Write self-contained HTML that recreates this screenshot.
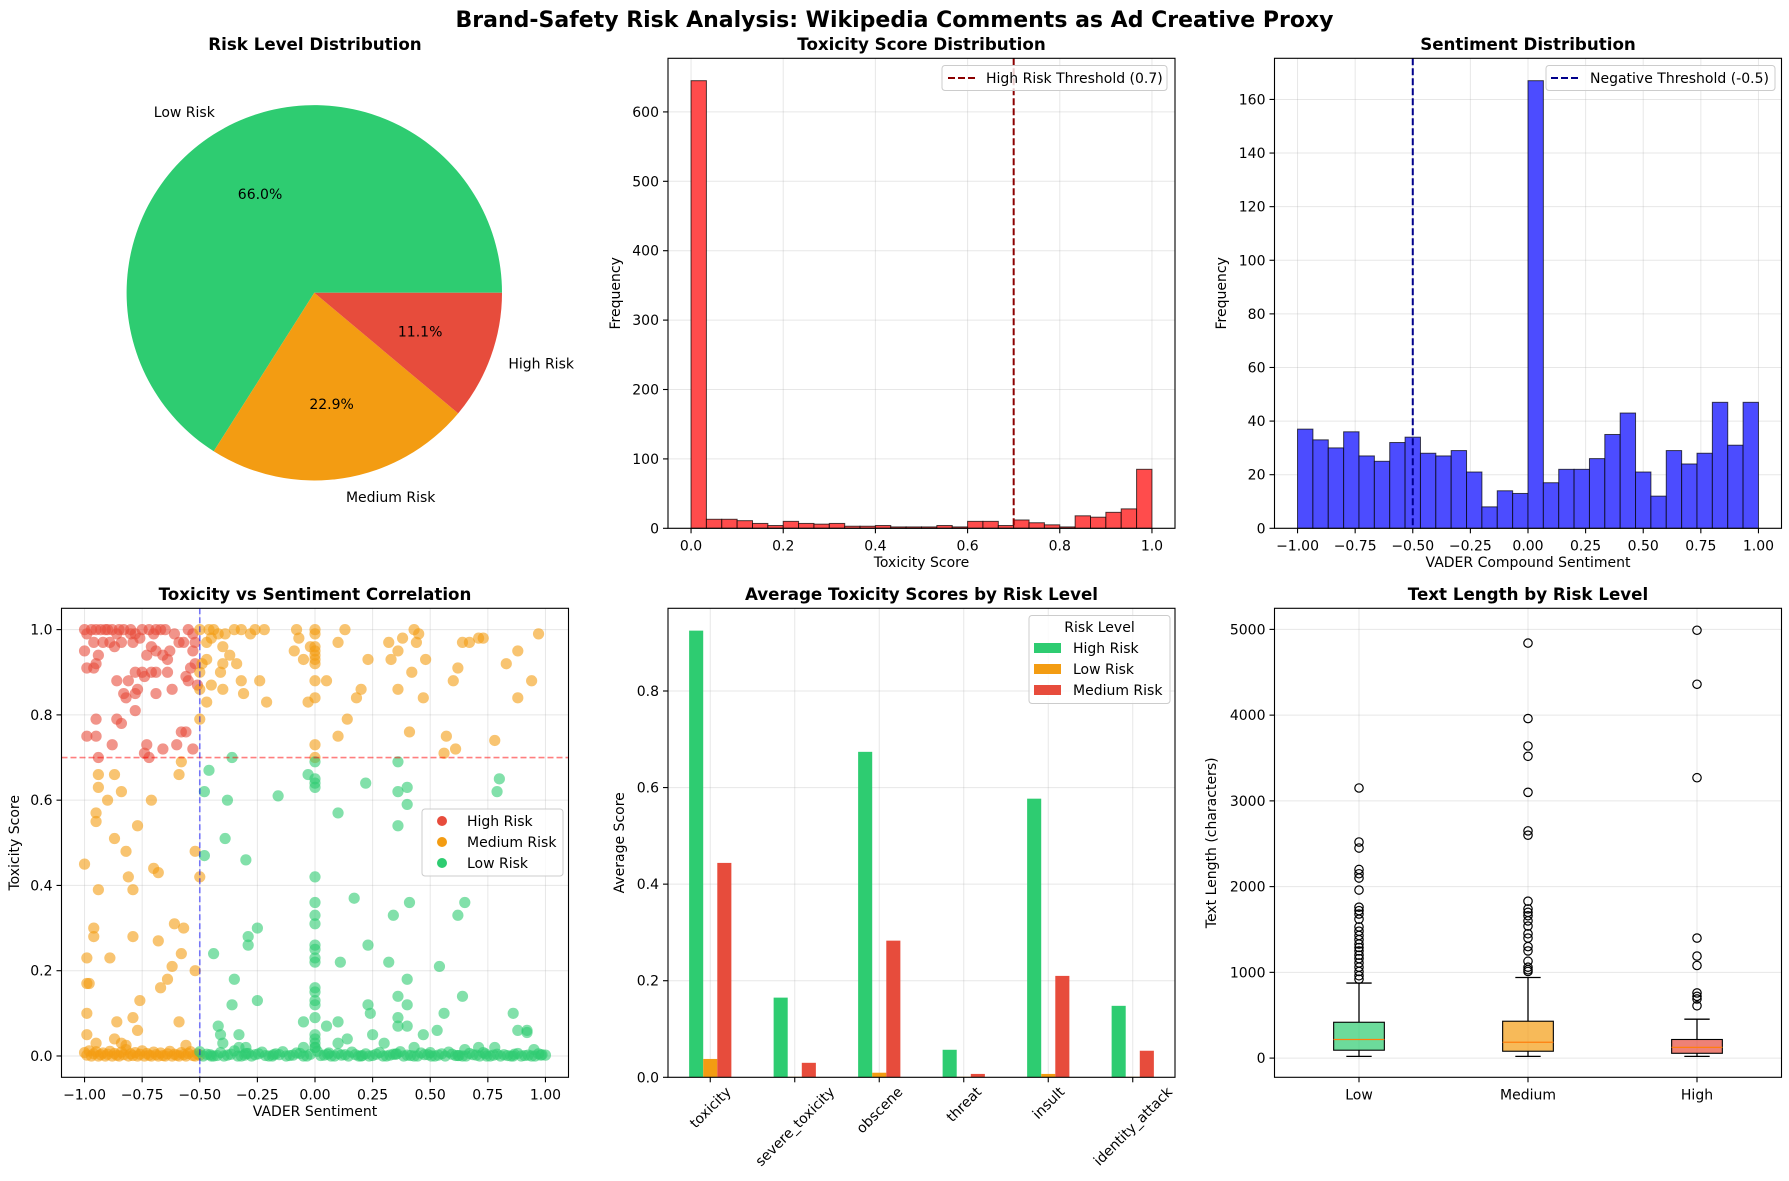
<!DOCTYPE html>
<html><head><meta charset="utf-8"><title>Brand-Safety Risk Analysis</title>
<style>
html,body{margin:0;padding:0;background:#fff;}
svg{display:block;font-family:"DejaVu Sans","Liberation Sans",sans-serif;}
</style></head>
<body>
<svg id="fig" width="1789" height="1181" viewBox="0 0 1789 1181" xmlns="http://www.w3.org/2000/svg">
<rect x="0" y="0" width="1789" height="1181" fill="#fff"/>
<text x="894.5" y="27" text-anchor="middle" font-size="22" font-weight="bold">Brand-Safety Risk Analysis: Wikipedia Comments as Ad Creative Proxy</text>
</svg>
<script>
// ---------- DATA ----------
const pieLabels = ["Low Risk","Medium Risk","High Risk"];
const piePct = [66.0, 22.9, 11.1];

const toxHistCounts = [645,13,13,11,7,4,10,7,6,7,3,3,4,2,2,2,4,2,10,10,4,12,8,5,2,18,16,23,28,85];
const toxTicks = [0.0,0.2,0.4,0.6,0.8,1.0];
const toxTickLabels = ["0.0","0.2","0.4","0.6","0.8","1.0"];
const toxYTicks = [0,100,200,300,400,500,600];

const sentHistCounts = [37,33,30,36,27,25,32,34,28,27,29,21,8,14,13,167,17,22,22,26,35,43,21,12,29,24,28,47,31,47];
const sentTicks = [-1,-0.75,-0.5,-0.25,0,0.25,0.5,0.75,1];
const sentTickLabels = ["\u22121.00","\u22120.75","\u22120.50","\u22120.25","0.00","0.25","0.50","0.75","1.00"];
const sentYTicks = [0,20,40,60,80,100,120,140,160];

const highX = [-1.0,-0.99,-0.97,-0.95,-0.93,-0.9,-0.88,-0.86,-0.83,-0.8,-0.78,-0.75,-0.72,-0.69,-0.67,-0.65,-0.61,-0.55,-0.53,
 -0.96,-0.92,-0.89,-0.87,-0.84,-0.79,-0.76,-0.71,-0.69,-0.66,-0.63,-0.59,-0.57,-0.53,-0.52,
 -1.0,-0.94,-0.99,-0.96,-0.95,-0.73,-0.64,-0.54,-0.52,
 -0.86,-0.81,-0.78,-0.75,-0.74,-0.71,-0.69,-0.64,-0.56,-0.55,-0.51,
 -0.83,-0.82,-0.78,-0.77,-0.69,-0.62,
 -0.78,-0.95,-0.86,-0.84,-0.56,-0.58,
 -0.99,-0.95,-0.88,-0.73,-0.74,-0.72,-0.66,-0.6,-0.53,-0.94,-0.91,-0.85,-0.8,-0.7];
const highY = [1.0,0.99,1.0,1.0,1.0,1.0,1.0,0.99,1.0,1.0,0.99,1.0,1.0,1.0,1.0,1.0,0.99,1.0,0.99,
 0.97,0.97,0.97,0.96,0.97,0.97,0.98,0.96,0.95,0.94,0.95,0.97,0.97,0.95,0.97,
 0.95,0.94,0.91,0.91,0.92,0.94,0.93,0.91,0.92,
 0.88,0.88,0.9,0.9,0.89,0.9,0.9,0.9,0.89,0.88,0.87,
 0.85,0.84,0.85,0.86,0.85,0.86,
 0.81,0.79,0.79,0.78,0.76,0.76,
 0.75,0.75,0.73,0.73,0.71,0.7,0.72,0.73,0.72,0.7,1.0,1.0,0.99,0.99];

const mediumX = [-0.5,-0.46,-0.44,-0.42,-0.39,-0.35,-0.32,-0.28,-0.26,-0.22,-0.08,0.0,0.0,0.13,0.43,0.45,0.97,
 -0.47,-0.45,-0.4,-0.07,-0.09,-0.02,0.0,0.0,0.0,0.0,0.0,0.1,0.32,0.36,0.38,0.44,0.64,0.67,0.71,0.73,0.88,
 -0.49,-0.47,-0.4,-0.37,-0.34,-0.05,0.23,0.33,0.42,0.48,0.62,0.83,
 -0.5,-0.41,-0.45,-0.32,-0.24,0.0,0.05,0.6,0.94,
 -0.5,-0.4,-0.31,-0.47,-0.21,-0.03,0.0,0.18,0.2,0.36,0.47,0.88,
 -0.5,0.14,0.41,0.57,0.1,0.78,0.0,0.61,0.56,0.0,
 -0.94,-0.87,-0.58,-0.59,-0.94,-0.84,-0.9,-0.71,-0.95,-0.95,-0.77,-0.87,-0.82,-0.52,-1.0,-0.7,-0.68,-0.81,-0.5,-0.94,-0.79,
 -0.96,-0.61,-0.57,-0.96,-0.79,-0.68,-0.58,-0.99,-0.89,-0.62,-0.52,-0.64,-0.99,-0.98,-0.67,-0.76,-0.99,-0.79,-0.86,-0.59,-0.77,
 -0.99,-0.95,-0.87,-0.84,-0.82,-0.56,
 -1.0,-0.99,-0.98,-0.97,-0.96,-0.95,-0.94,-0.93,-0.92,-0.91,-0.9,-0.89,-0.88,-0.87,-0.86,-0.85,-0.84,-0.83,-0.82,-0.81,-0.8,
 -0.79,-0.78,-0.77,-0.76,-0.75,-0.74,-0.73,-0.72,-0.71,-0.7,-0.69,-0.68,-0.67,-0.66,-0.65,-0.64,-0.63,-0.62,-0.61,-0.6,
 -0.59,-0.58,-0.57,-0.56,-0.55,-0.54,-0.53,-0.52,-0.51,-0.5];
const mediumY = [1.0,1.0,1.0,0.99,0.99,1.0,1.0,0.99,1.0,1.0,1.0,1.0,0.99,1.0,1.0,0.99,0.99,
 0.97,0.98,0.96,0.98,0.95,0.96,0.96,0.95,0.94,0.93,0.92,0.97,0.97,0.95,0.98,0.97,0.97,0.97,0.98,0.98,0.95,
 0.92,0.93,0.92,0.94,0.92,0.93,0.93,0.93,0.9,0.93,0.91,0.92,
 0.9,0.9,0.87,0.88,0.88,0.88,0.88,0.88,0.88,
 0.86,0.86,0.85,0.83,0.83,0.83,0.84,0.84,0.86,0.86,0.84,0.84,
 0.79,0.79,0.76,0.75,0.75,0.74,0.73,0.72,0.71,0.7,
 0.66,0.66,0.69,0.66,0.63,0.62,0.6,0.6,0.57,0.55,0.54,0.51,0.48,0.48,0.45,0.44,0.43,0.42,0.42,0.39,0.39,
 0.3,0.31,0.3,0.28,0.28,0.27,0.24,0.23,0.23,0.21,0.2,0.18,0.17,0.17,0.16,0.13,0.1,0.09,0.08,0.08,0.06,
 0.05,0.03,0.04,0.03,0.025,0.025,
 0.008,0.002,0.012,0.0,0.005,0.01,0.0,0.003,0.007,0.0,0.004,0.011,0.0,0.006,0.002,0.0,0.009,0.003,0.015,0.0,0.005,
 0.001,0.008,0.0,0.004,0.012,0.0,0.006,0.002,0.0,0.009,0.003,0.0,0.007,0.001,0.0,0.005,0.011,0.0,0.004,0.002,
 0.0,0.008,0.003,0.0,0.006,0.01,0.001,0.0,0.005,0.002];

const lowX = [-0.36,0.36,0.0,-0.46,-0.03,0.0,0.0,0.0,0.22,0.8,-0.48,0.36,0.4,0.79,-0.16,-0.38,0.4,0.1,0.36,-0.39,-0.48,-0.3,
 0.0,0.17,0.0,0.41,0.65,0.0,0.34,0.62,0.0,-0.25,-0.29,-0.29,0.0,0.23,0.0,-0.44,0.0,0.0,0.11,0.32,0.54,-0.35,0.4,
 0.0,0.0,0.0,0.0,0.36,0.64,-0.25,-0.36,0.23,0.4,0.56,0.86,-0.05,0.0,0.24,0.36,0.1,-0.42,0.05,0.4,0.36,0.53,0.88,0.92,0.92,
 -0.41,-0.33,0.0,0.14,0.25,0.47,-0.4,0.3,-0.33,-0.3,0.0,-0.05,0.1,0.43,0.78,0.71,0.0,0.0,0.65,0.95,
 -0.5,-0.47,-0.44,-0.41,-0.38,-0.35,-0.32,-0.29,-0.26,-0.23,-0.2,-0.17,-0.14,-0.11,-0.08,-0.05,-0.02,0.0,0.01,0.04,0.07,
 0.1,0.13,0.16,0.19,0.22,0.25,0.28,0.31,0.34,0.37,0.4,0.43,0.46,0.49,0.52,0.55,0.58,0.61,0.64,0.67,0.7,0.73,0.76,0.79,
 0.82,0.85,0.88,0.91,0.94,0.97,1.0,-0.45,-0.3,-0.18,0.06,0.2,0.35,0.5,0.62,0.74,0.86,0.98,
 -0.485,-0.455,-0.425,-0.395,-0.365,-0.335,-0.305,-0.275,-0.245,-0.215,-0.185,-0.155,-0.125,-0.095,-0.065,-0.035,0.025,0.055,0.085,
 0.115,0.145,0.175,0.205,0.235,0.265,0.295,0.325,0.355,0.385,0.415,0.445,0.475,0.505,0.535,0.565,0.595,0.625,0.655,0.685,0.715,
 0.745,0.775,0.805,0.835,0.865,0.895,0.925,0.955,0.985];
const lowY = [0.7,0.69,0.69,0.67,0.66,0.65,0.64,0.63,0.64,0.65,0.62,0.62,0.63,0.62,0.61,0.6,0.59,0.57,0.54,0.51,0.47,0.46,
 0.42,0.37,0.36,0.36,0.36,0.33,0.33,0.33,0.31,0.3,0.28,0.26,0.26,0.26,0.25,0.24,0.23,0.22,0.22,0.22,0.21,0.18,0.18,
 0.16,0.15,0.13,0.12,0.14,0.14,0.13,0.12,0.12,0.12,0.1,0.1,0.08,0.09,0.1,0.09,0.08,0.07,0.07,0.07,0.07,0.06,0.06,0.06,0.055,
 0.05,0.05,0.05,0.04,0.05,0.05,0.03,0.03,0.02,0.02,0.03,0.02,0.03,0.02,0.02,0.02,0.04,0.02,0.015,0.015,
 0.01,0.004,0.0,0.008,0.002,0.012,0.0,0.006,0.003,0.009,0.0,0.005,0.01,0.001,0.007,0.0,0.004,0.02,0.011,0.002,0.0,
 0.006,0.003,0.009,0.0,0.005,0.001,0.008,0.0,0.004,0.01,0.002,0.0,0.007,0.003,0.0,0.005,0.009,0.001,0.0,0.006,0.002,0.008,0.0,0.004,
 0.003,0.0,0.006,0.001,0.0,0.005,0.002,0.0,0.006,0.003,0.007,0.0,0.004,0.008,0.001,0.005,0.0,0.002,
 0.0,0.003,0.001,0.0,0.004,0.0,0.002,0.0,0.005,0.001,0.0,0.003,0.0,0.002,0.006,0.0,0.001,0.004,0.0,
 0.002,0.0,0.003,0.001,0.0,0.004,0.0,0.002,0.005,0.0,0.001,0.0,0.003,0.0,0.002,0.0,0.004,0.001,0.0,0.003,0.0,
 0.0,0.002,0.0,0.001,0.004,0.0,0.002,0.0,0.003];

const barCategories = ["toxicity","severe_toxicity","obscene","threat","insult","identity_attack"];
const barSeriesNames = ["High Risk","Low Risk","Medium Risk"];
const barHigh = [0.925,0.165,0.674,0.057,0.577,0.148];
const barLow = [0.038,0.001,0.0095,0.001,0.007,0.001];
const barMedium = [0.444,0.030,0.283,0.007,0.210,0.055];
const barYTicks = [0.0,0.2,0.4,0.6,0.8];

const boxCategories = ["Low","Medium","High"];
const boxQ1 = [92,80,56];
const boxMedian = [217,185,125];
const boxQ3 = [418,430,217];
const boxWhiskLo = [20,20,20];
const boxWhiskHi = [875,940,454];
const boxOutLow = [3150,2520,2450,2200,2150,2100,1960,1760,1720,1680,1620,1530,1480,1430,1380,1330,1290,1250,1200,1160,1110,1060,1010,960,920];
const boxOutMedium = [4840,3960,3640,3520,3100,2650,2600,1830,1740,1700,1660,1600,1540,1450,1400,1300,1250,1130,1060,1030,1010];
const boxOutHigh = [4990,4360,3270,1400,1190,1080,760,720,690,610];
const boxYTicks = [0,1000,2000,3000,4000,5000];

// ---------- HELPERS ----------
const NS = "http://www.w3.org/2000/svg";
const svg = document.getElementById('fig');
function el(tag, attrs, parent){
  const e = document.createElementNS(NS, tag);
  for (const k in attrs) e.setAttribute(k, attrs[k]);
  (parent || svg).appendChild(e);
  return e;
}
function txt(str, attrs, parent){
  const t = el('text', attrs, parent);
  t.textContent = str;
  return t;
}
function mkScale(d0, d1, p0, p1){ return v => p0 + (v - d0) / (d1 - d0) * (p1 - p0); }

const FS = 14;
function axesFrame(name, x0, y0, x1, y1, xd, yd){
  const g = el('g', {});
  
  
  const sx = mkScale(xd[0], xd[1], x0, x1);
  const sy = mkScale(yd[0], yd[1], y1, y0);
  return {g, sx, sy, x0, y0, x1, y1};
}
function grid(ax, xt, yt){
  const gg = el('g', {stroke:'#b0b0b0', 'stroke-opacity':0.3, 'stroke-width':1}, ax.g);
  
  
  xt.forEach(v => { const X = ax.sx(v); el('line', {x1:X, x2:X, y1:ax.y0, y2:ax.y1}, gg); });
  yt.forEach(v => { const Y = ax.sy(v); el('line', {x1:ax.x0, x2:ax.x1, y1:Y, y2:Y}, gg); });
}
function ticks(ax, xt, xl, yt, yl){
  const gx = el('g', {}, ax.g);
  
  
  xt.forEach((v, i) => {
    const X = ax.sx(v);
    el('line', {x1:X, x2:X, y1:ax.y1, y2:ax.y1 + 5, stroke:'#000', 'stroke-width':1.1}, gx);
    if (xl) {
      const t = txt(xl[i], {x:X, y:ax.y1 + 22, 'text-anchor':'middle', 'font-size':FS}, gx);
      
      
    }
  });
  const gy = el('g', {}, ax.g);
  
  
  yt.forEach((v, i) => {
    const Y = ax.sy(v);
    el('line', {x1:ax.x0 - 5, x2:ax.x0, y1:Y, y2:Y, stroke:'#000', 'stroke-width':1.1}, gy);
    const t = txt(yl[i], {x:ax.x0 - 9, y:Y + 5, 'text-anchor':'end', 'font-size':FS}, gy);
    
    
  });
}
function spines(ax){
  const r = el('rect', {x:ax.x0, y:ax.y0, width:ax.x1 - ax.x0, height:ax.y1 - ax.y0, fill:'none', stroke:'#000', 'stroke-width':1.1}, ax.g);
  
  
}
function title(ax, s, y){
  const t = txt(s, {x:(ax.x0 + ax.x1) / 2, y:y, 'text-anchor':'middle', 'font-size':16.7, 'font-weight':'bold'}, ax.g);
  
  
}
function xlabel(ax, s, y){
  const t = txt(s, {x:(ax.x0 + ax.x1) / 2, y:y, 'text-anchor':'middle', 'font-size':FS}, ax.g);
  
  
}
function ylabel(ax, s, x){
  const cy = (ax.y0 + ax.y1) / 2;
  const t = txt(s, {x:x, y:cy, 'text-anchor':'middle', 'font-size':FS, transform:'rotate(-90 ' + x + ' ' + cy + ')'}, ax.g);
  
  
}
const fmt1 = v => v.toFixed(1);

// Layout
const C1 = [61.5, 568.5], C2 = [668, 1175], C3 = [1274.5, 1781.5];
const R1 = [58.3, 528.3], R2 = [608.3, 1077.3];

// ---------- PIE ----------
(function(){
  const g = el('g', {});
  
  
  const t = txt('Risk Level Distribution', {x:315, y:50, 'text-anchor':'middle', 'font-size':16.7, 'font-weight':'bold'}, g);
  
  
  const cx = 314.3, cy = 292.8, r = 187.7;
  const colors = ['#2ecc71', '#f39c12', '#e74c3c'];
  const total = piePct.reduce((a, b) => a + b, 0);
  let a0 = 0;
  piePct.forEach((p, i) => {
    const a1 = a0 + p / total * 360;
    const r0 = a0 * Math.PI / 180, r1 = a1 * Math.PI / 180;
    const xA = cx + r * Math.cos(r0), yA = cy - r * Math.sin(r0);
    const xB = cx + r * Math.cos(r1), yB = cy - r * Math.sin(r1);
    const large = (a1 - a0) > 180 ? 1 : 0;
    const path = el('path', {d:`M${cx},${cy} L${xA},${yA} A${r},${r} 0 ${large} 0 ${xB},${yB} Z`, fill:colors[i]}, g);
    
    
    const am = (a0 + a1) / 2 * Math.PI / 180;
    const lx = cx + 1.1 * r * Math.cos(am), ly = cy - 1.1 * r * Math.sin(am);
    const lab = txt(pieLabels[i], {x:lx, y:ly + 5, 'text-anchor':(Math.cos(am) < 0 ? 'end' : 'start'), 'font-size':FS}, g);
    
    
    const px = cx + 0.6 * r * Math.cos(am), py = cy - 0.6 * r * Math.sin(am);
    const pl = txt(p.toFixed(1) + '%', {x:px, y:py + 5, 'text-anchor':'middle', 'font-size':FS}, g);
    
    
    a0 = a1;
  });
})();

// ---------- TOXICITY HISTOGRAM ----------
(function(){
  const ymax = Math.max(...toxHistCounts) * 1.05;
  const ax = axesFrame('toxicity-histogram', C2[0], R1[0], C2[1], R1[1], [-0.05, 1.05], [0, ymax]);
  grid(ax, toxTicks, toxYTicks);
  const n = toxHistCounts.length, w = 1 / n;
  toxHistCounts.forEach((c, i) => {
    const xa = ax.sx(i * w), xb = ax.sx((i + 1) * w), Y = ax.sy(c);
    const b = el('rect', {x:xa, y:Y, width:xb - xa, height:ax.sy(0) - Y, fill:'#ff4c4c', stroke:'#000', 'stroke-opacity':0.7, 'stroke-width':1}, ax.g);
    
    
  });
  const X = ax.sx(0.7);
  const th = el('line', {x1:X, x2:X, y1:ax.y0, y2:ax.y1, stroke:'#8b0000', 'stroke-width':2, 'stroke-dasharray':'7,3'}, ax.g);
  
  
  spines(ax);
  ticks(ax, toxTicks, toxTickLabels, toxYTicks, toxYTicks.map(String));
  title(ax, 'Toxicity Score Distribution', 50);
  xlabel(ax, 'Toxicity Score', 567);
  ylabel(ax, 'Frequency', 620);
  const lg = el('g', {}, ax.g);
  
  
  el('rect', {x:942, y:65.5, width:225, height:25, rx:3, fill:'#fff', 'fill-opacity':0.8, stroke:'#ccc'}, lg);
  el('line', {x1:948, x2:976, y1:78, y2:78, stroke:'#8b0000', 'stroke-width':2, 'stroke-dasharray':'7,3'}, lg);
  const lt = txt('High Risk Threshold (0.7)', {x:986, y:83, 'font-size':FS}, lg);
  
  
})();

// ---------- SENTIMENT HISTOGRAM ----------
(function(){
  const ymax = Math.max(...sentHistCounts) * 1.05;
  const ax = axesFrame('sentiment-histogram', C3[0], R1[0], C3[1], R1[1], [-1.1, 1.1], [0, ymax]);
  grid(ax, sentTicks, sentYTicks);
  const n = sentHistCounts.length, w = 2 / n;
  sentHistCounts.forEach((c, i) => {
    const xa = ax.sx(-1 + i * w), xb = ax.sx(-1 + (i + 1) * w), Y = ax.sy(c);
    const b = el('rect', {x:xa, y:Y, width:xb - xa, height:ax.sy(0) - Y, fill:'#4c4cff', stroke:'#000', 'stroke-opacity':0.7, 'stroke-width':1}, ax.g);
    
    
  });
  const X = ax.sx(-0.5);
  const th = el('line', {x1:X, x2:X, y1:ax.y0, y2:ax.y1, stroke:'#00008b', 'stroke-width':2, 'stroke-dasharray':'7,3'}, ax.g);
  
  
  spines(ax);
  ticks(ax, sentTicks, sentTickLabels, sentYTicks, sentYTicks.map(String));
  title(ax, 'Sentiment Distribution', 50);
  xlabel(ax, 'VADER Compound Sentiment', 567);
  ylabel(ax, 'Frequency', 1226);
  const lg = el('g', {}, ax.g);
  
  
  el('rect', {x:1546, y:65.5, width:229, height:25, rx:3, fill:'#fff', 'fill-opacity':0.8, stroke:'#ccc'}, lg);
  el('line', {x1:1551, x2:1580, y1:78, y2:78, stroke:'#00008b', 'stroke-width':2, 'stroke-dasharray':'7,3'}, lg);
  const lt = txt('Negative Threshold (-0.5)', {x:1590, y:83, 'font-size':FS}, lg);
  
  
})();

// ---------- SCATTER ----------
(function(){
  const ax = axesFrame('toxicity-sentiment-scatter', C1[0], R2[0], C1[1], R2[1], [-1.1, 1.1], [-0.05, 1.05]);
  const yt = [0, 0.2, 0.4, 0.6, 0.8, 1.0];
  grid(ax, sentTicks, yt);
  const series = [[highX, highY, '#e74c3c', 'high-risk'], [mediumX, mediumY, '#f39c12', 'medium-risk'], [lowX, lowY, '#2ecc71', 'low-risk']];
  series.forEach(s => {
    const gs = el('g', {fill:s[2], 'fill-opacity':0.6}, ax.g);
    
    
    const n = Math.min(s[0].length, s[1].length);
    for (let i = 0; i < n; i++) {
      const c = el('circle', {cx:ax.sx(s[0][i]), cy:ax.sy(s[1][i]), r:5.6}, gs);
      
      
    }
  });
  const hY = ax.sy(0.7);
  const hl = el('line', {x1:ax.x0, x2:ax.x1, y1:hY, y2:hY, stroke:'#ff0000', 'stroke-opacity':0.5, 'stroke-width':1.6, 'stroke-dasharray':'6,3'}, ax.g);
  
  
  const vX = ax.sx(-0.5);
  const vl = el('line', {x1:vX, x2:vX, y1:ax.y0, y2:ax.y1, stroke:'#0000ff', 'stroke-opacity':0.5, 'stroke-width':1.6, 'stroke-dasharray':'6,3'}, ax.g);
  
  
  spines(ax);
  ticks(ax, sentTicks, sentTickLabels, yt, yt.map(fmt1));
  title(ax, 'Toxicity vs Sentiment Correlation', 600);
  xlabel(ax, 'VADER Sentiment', 1116);
  ylabel(ax, 'Toxicity Score', 19);
  const lg = el('g', {}, ax.g);
  
  
  el('rect', {x:422, y:809, width:141, height:67, rx:3, fill:'#fff', 'fill-opacity':0.8, stroke:'#ccc'}, lg);
  const names = ['High Risk', 'Medium Risk', 'Low Risk'], cols = ['#e74c3c', '#f39c12', '#2ecc71'];
  names.forEach((nm, i) => {
    const yy = 821 + i * 21;
    el('circle', {cx:442, cy:yy, r:5, fill:cols[i]}, lg);
    const t = txt(nm, {x:467, y:yy + 5, 'font-size':FS}, lg);
    
    
  });
})();

// ---------- GROUPED BAR ----------
(function(){
  const ymax = Math.max(...barHigh, ...barLow, ...barMedium) * 1.05;
  const ax = axesFrame('average-toxicity-bar-chart', C2[0], R2[0], C2[1], R2[1], [-0.5, barCategories.length - 0.5], [0, ymax]);
  const xt = barCategories.map((c, i) => i);
  grid(ax, xt, barYTicks);
  const series = [barHigh, barLow, barMedium], cols = ['#2ecc71', '#f39c12', '#e74c3c'];
  const bw = 0.5 / 3;
  series.forEach((vals, s) => {
    vals.forEach((v, i) => {
      const xa = ax.sx(i - 0.25 + s * bw), xb = ax.sx(i - 0.25 + (s + 1) * bw), Y = ax.sy(v);
      const b = el('rect', {x:xa, y:Y, width:xb - xa, height:ax.sy(0) - Y, fill:cols[s]}, ax.g);
      
      
    });
  });
  spines(ax);
  ticks(ax, xt, null, barYTicks, barYTicks.map(fmt1));
  barCategories.forEach((c, i) => {
    const t = txt(c, {'font-size':FS, 'text-anchor':'middle'}, ax.g);
    
    
    const w = t.getComputedTextLength();
    const cx = ax.sx(i), cy = ax.y1 + 8 + (w + 11) * 0.7071 / 2;
    t.setAttribute('x', cx);
    t.setAttribute('y', cy + 5);
    t.setAttribute('transform', 'rotate(-45 ' + cx + ' ' + cy + ')');
  });
  title(ax, 'Average Toxicity Scores by Risk Level', 600);
  ylabel(ax, 'Average Score', 624);
  const lg = el('g', {}, ax.g);
  
  
  el('rect', {x:1029, y:615.5, width:141, height:88, rx:3, fill:'#fff', 'fill-opacity':0.8, stroke:'#ccc'}, lg);
  const lt = txt('Risk Level', {x:1099.5, y:632, 'text-anchor':'middle', 'font-size':FS}, lg);
  
  
  barSeriesNames.forEach((nm, i) => {
    const yy = 648 + i * 21;
    el('rect', {x:1034, y:yy - 5, width:27, height:10, fill:cols[i]}, lg);
    const t = txt(nm, {x:1073, y:yy + 5, 'font-size':FS}, lg);
    
    
  });
})();

// ---------- BOX PLOT ----------
(function(){
  const ax = axesFrame('text-length-box-plot', C3[0], R2[0], C3[1], R2[1], [0.5, 3.5], [-224, 5246]);
  const xt = [1, 2, 3];
  grid(ax, xt, boxYTicks);
  const cols = ['#2ecc71', '#f39c12', '#e74c3c'];
  const outs = [boxOutLow, boxOutMedium, boxOutHigh];
  const hw = 0.15;
  boxCategories.forEach((c, i) => {
    const X = ax.sx(i + 1);
    const gb = el('g', {}, ax.g);
    
    
    const xa = ax.sx(i + 1 - hw), xb = ax.sx(i + 1 + hw);
    const xca = ax.sx(i + 1 - hw / 2), xcb = ax.sx(i + 1 + hw / 2);
    el('line', {x1:X, x2:X, y1:ax.sy(boxWhiskLo[i]), y2:ax.sy(boxQ1[i]), stroke:'#000', 'stroke-width':1.3}, gb);
    el('line', {x1:X, x2:X, y1:ax.sy(boxQ3[i]), y2:ax.sy(boxWhiskHi[i]), stroke:'#000', 'stroke-width':1.3}, gb);
    el('line', {x1:xca, x2:xcb, y1:ax.sy(boxWhiskLo[i]), y2:ax.sy(boxWhiskLo[i]), stroke:'#000', 'stroke-width':1.3}, gb);
    el('line', {x1:xca, x2:xcb, y1:ax.sy(boxWhiskHi[i]), y2:ax.sy(boxWhiskHi[i]), stroke:'#000', 'stroke-width':1.3}, gb);
    el('rect', {x:xa, y:ax.sy(boxQ3[i]), width:xb - xa, height:ax.sy(boxQ1[i]) - ax.sy(boxQ3[i]), fill:cols[i], 'fill-opacity':0.7, stroke:'#000', 'stroke-width':1.1}, gb);
    el('line', {x1:xa, x2:xb, y1:ax.sy(boxMedian[i]), y2:ax.sy(boxMedian[i]), stroke:'#ff7f0e', 'stroke-width':1.3}, gb);
    outs[i].forEach(v => {
      const o = el('circle', {cx:X, cy:ax.sy(v), r:4.2, fill:'none', stroke:'#000', 'stroke-width':1.2}, gb);
      
      
    });
  });
  spines(ax);
  ticks(ax, xt, boxCategories, boxYTicks, boxYTicks.map(String));
  title(ax, 'Text Length by Risk Level', 600);
  ylabel(ax, 'Text Length (characters)', 1216);
})();
</script>
</body></html>
